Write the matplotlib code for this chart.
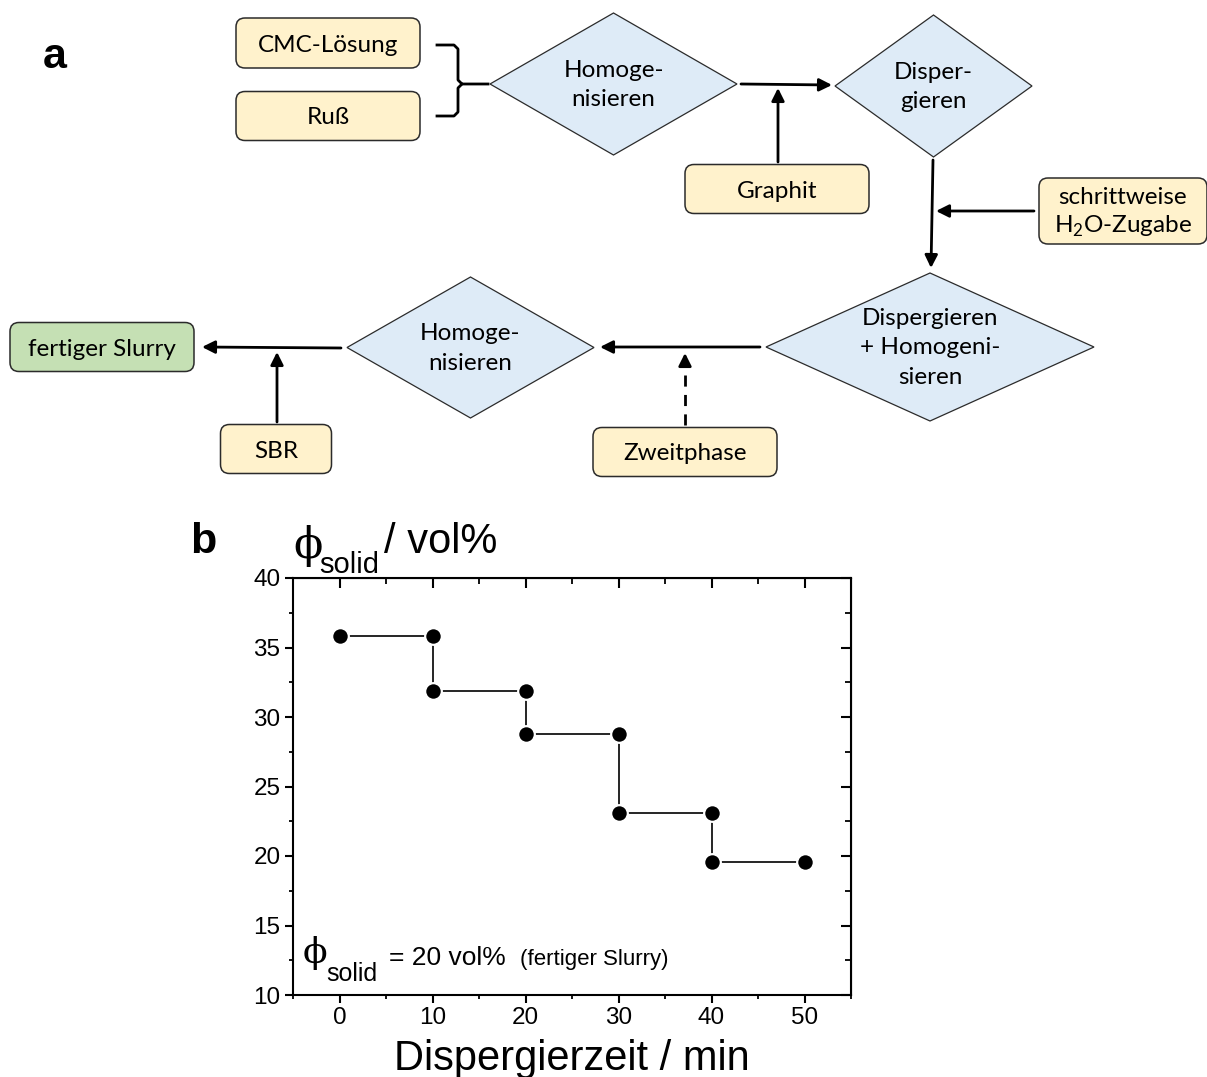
import matplotlib
matplotlib.use("Agg")
import matplotlib.pyplot as plt
from matplotlib.patches import FancyBboxPatch, Polygon
from matplotlib.ticker import MultipleLocator

# --- data for panel b (step profile of solid content) ---
zeit_min = [0, 10, 10, 20, 20, 30, 30, 40, 40, 50]
phi_solid = [35.8, 35.8, 31.9, 31.9, 28.8, 28.8, 23.1, 23.1, 19.6, 19.6]
x_ticks = [0, 10, 20, 30, 40, 50]
y_ticks = [10, 15, 20, 25, 30, 35, 40]

# --- flowchart content for panel a ---
# (label, center x, center y, width, height, fill)
boxes = [
    ("CMC-Lösung", 328, 43, 184, 50, '#FFF2CC'),
    ("Ruß", 328, 116, 184, 49, '#FFF2CC'),
    ("Graphit", 777, 189, 184, 49, '#FFF2CC'),
    ("schrittweise\nH$_\\mathregular{2}$O-Zugabe", 1123, 211, 168, 66, '#FFF2CC'),
    ("fertiger Slurry", 102, 347, 184, 49, '#C5E0B4'),
    ("SBR", 276, 449, 111, 49, '#FFF2CC'),
    ("Zweitphase", 685, 452, 184, 49, '#FFF2CC'),
]
# (label, left, right, top, bottom)
diamonds = [
    ("Homoge-\nnisieren", 490, 737, 13, 155),
    ("Disper-\ngieren", 835, 1032, 15, 157),
    ("Dispergieren\n+ Homogeni-\nsieren", 766, 1094, 273, 421),
    ("Homoge-\nnisieren", 347, 594, 277, 418),
]
# (start, end, dashed)
arrows = [
    ((741, 84), (832, 85), False),
    ((778, 162), (778, 88), False),
    ((933, 160), (931, 268), False),
    ((1034, 211), (936, 211), False),
    ((760, 347), (600, 347), False),
    ((685, 425), (685, 353), True),
    ((341, 348), (202, 347), False),
    ((277, 422), (277, 352), False),
]

fig = plt.figure(figsize=(12.07, 10.77), dpi=100)

# overlay in pixel coordinates for the flowchart
ax0 = fig.add_axes([0, 0, 1, 1])
ax0.set_xlim(0, 1207)
ax0.set_ylim(1077, 0)
ax0.axis('off')

flow_font = 'Lato'

for label, cx, cy, w, h, fc in boxes:
    ax0.add_patch(FancyBboxPatch((cx - w / 2, cy - h / 2), w, h,
                                 boxstyle="round,pad=0,rounding_size=9",
                                 fc=fc, ec='#2b2b2b', lw=1.1))
    ax0.text(cx, cy + 2, label, ha='center', va='center', fontsize=17.5,
             family=flow_font, linespacing=1.35)

for label, l, r, t, b in diamonds:
    cx, cy = (l + r) / 2, (t + b) / 2
    ax0.add_patch(Polygon([(l, cy), (cx, t), (r, cy), (cx, b)], closed=True,
                          fc='#DEEBF7', ec='#2b2b2b', lw=0.9))
    ax0.text(cx, cy + 1, label, ha='center', va='center', fontsize=17.5,
             family=flow_font, linespacing=1.5)

for start, end, dashed in arrows:
    if dashed:
        ax0.plot([start[0], end[0]], [start[1], end[1] + 10], color='black',
                 lw=2, ls=(0, (4, 3)))
        ax0.annotate('', xy=end, xytext=(end[0], end[1] + 12),
                     arrowprops=dict(arrowstyle='-|>', color='black', lw=2,
                                     mutation_scale=19, shrinkA=0, shrinkB=0))
    else:
        ax0.annotate('', xy=end, xytext=start,
                     arrowprops=dict(arrowstyle='-|>', color='black', lw=2,
                                     mutation_scale=19, shrinkA=0, shrinkB=0))

# curly bracket joining CMC-Lösung and Ruß
ax0.plot([437, 454, 458, 458, 462, 488], [45, 45, 49, 80, 84, 84], color='black',
         lw=2, solid_joinstyle='round')
ax0.plot([462, 458, 458, 454, 437], [84, 88, 112, 116, 116], color='black',
         lw=2, solid_joinstyle='round')

# panel letters
ax0.text(55, 68, 'a', ha='center', va='baseline', fontsize=31,
         fontweight='bold', family='Liberation Sans')
ax0.text(203, 553, 'b', ha='center', va='baseline', fontsize=31,
         fontweight='bold', family='Liberation Sans')

# y axis title of panel b (written above the axes)
ax0.text(293, 558, 'ϕ', ha='left', va='baseline', fontsize=31,
         family='DejaVu Serif')
ax0.text(319, 573, 'solid', ha='left', va='baseline', fontsize=21,
         family='Liberation Sans')
ax0.text(384, 553, '/ vol%', ha='left', va='baseline', fontsize=30,
         family='Liberation Sans')

# note inside the plot
ax0.text(303, 963, 'ϕ', ha='left', va='baseline', fontsize=26,
         family='DejaVu Serif')
ax0.text(326, 981, 'solid', ha='left', va='baseline', fontsize=18,
         family='Liberation Sans')
ax0.text(389, 965, '= 20 vol%', ha='left', va='baseline', fontsize=19,
         family='Liberation Sans')
ax0.text(520, 965, '(fertiger Slurry)', ha='left', va='baseline', fontsize=16,
         family='Liberation Sans')

# --- panel b ---
ax = fig.add_axes([293 / 1207, 1 - 995 / 1077, 558 / 1207, 417 / 1077])
ax.set_facecolor('none')
ax.plot(zeit_min, phi_solid, color='black', lw=1.2, marker='o', markersize=12,
        markerfacecolor='black', markeredgecolor='white', markeredgewidth=1.6,
        zorder=3)
ax.set_xlim(-5, 55)
ax.set_ylim(10, 40)
ax.set_xticks(x_ticks)
ax.set_yticks(y_ticks)
ax.xaxis.set_minor_locator(MultipleLocator(5))
ax.yaxis.set_minor_locator(MultipleLocator(2.5))
ax.tick_params(which='major', direction='out', length=6, width=1.5,
               labelsize=17.5, pad=3)
ax.tick_params(which='minor', direction='out', length=3, width=1.3)
for lab in ax.get_xticklabels() + ax.get_yticklabels():
    lab.set_family('Liberation Sans')
for sp in ax.spines.values():
    sp.set_linewidth(1.5)

top = ax.secondary_xaxis('top')
top.set_xticks(x_ticks)
top.xaxis.set_minor_locator(MultipleLocator(5))
top.tick_params(which='major', direction='in', length=7, width=1.5, labeltop=False)
top.tick_params(which='minor', direction='in', length=4, width=1.3)
right = ax.secondary_yaxis('right')
right.set_yticks(y_ticks)
right.yaxis.set_minor_locator(MultipleLocator(2.5))
right.tick_params(which='major', direction='in', length=7, width=1.5, labelright=False)
right.tick_params(which='minor', direction='in', length=4, width=1.3)

ax.set_xlabel('Dispergierzeit / min', fontsize=30, family='Liberation Sans',
              labelpad=7)

fig.savefig('out.png', dpi=100)
